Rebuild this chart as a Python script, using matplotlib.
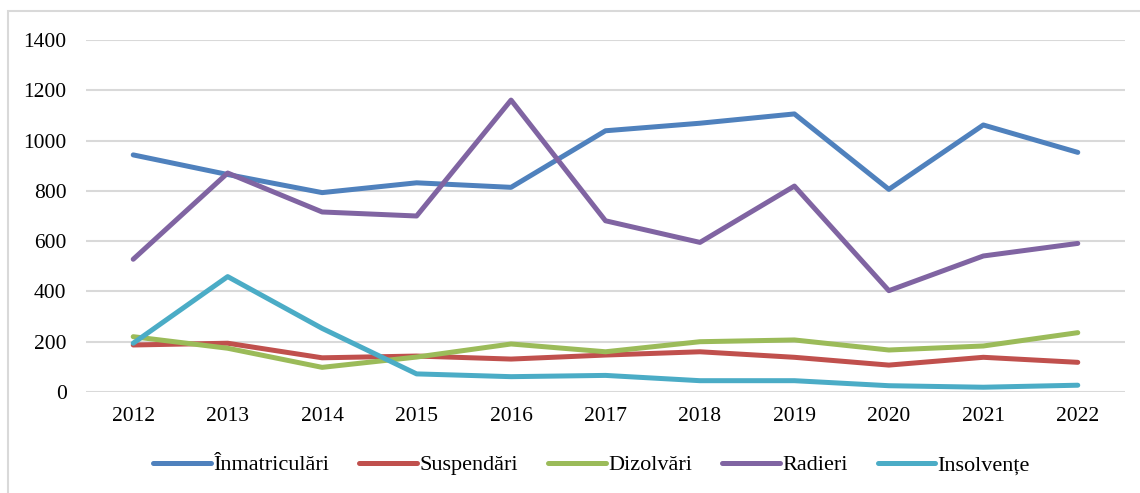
import matplotlib.pyplot as plt
from matplotlib.patches import Rectangle

years = ['2012', '2013', '2014', '2015', '2016', '2017', '2018', '2019', '2020', '2021', '2022']
inmatriculari = [943, 865, 793, 832, 814, 1039, 1069, 1106, 806, 1062, 953]
suspendari = [187, 194, 136, 143, 131, 147, 160, 138, 107, 138, 118]
dizolvari = [220, 174, 98, 139, 191, 160, 200, 207, 167, 183, 236]
radieri = [528, 871, 716, 700, 1161, 681, 595, 819, 403, 541, 591]
insolvente = [194, 459, 253, 72, 61, 66, 45, 45, 25, 19, 27]

names = ['Înmatriculări', 'Suspendări', 'Dizolvări', 'Radieri', 'Insolvențe']
colors = ['#4F81BD', '#C0504D', '#9BBB59', '#8064A2', '#4BACC6']
series = [inmatriculari, suspendari, dizolvari, radieri, insolvente]

plt.rcParams['font.family'] = ['Liberation Serif', 'DejaVu Serif']

fig = plt.figure(figsize=(11.4, 4.93), dpi=100)
ax = fig.add_axes([86 / 1140, 1 - 392 / 493, (1125 - 86) / 1140, (392 - 40) / 493])

x = list(range(len(years)))
for vals, name, c in zip(series, names, colors):
    ax.plot(x, vals, color=c, lw=3.6, label=name, solid_capstyle='round',
            solid_joinstyle='round', zorder=3)

ax.set_xlim(-0.5, len(years) - 0.5)
ax.set_ylim(0, 1400)
ax.set_yticks(range(0, 1401, 200))
ax.set_xticks(x)
ax.set_xticklabels(years)
ax.grid(axis='y', color='#D9D9D9', lw=1.5, zorder=0)
ax.set_axisbelow(True)
for s in ax.spines.values():
    s.set_visible(False)
ax.tick_params(length=0, labelsize=15.5, colors='black')
ax.tick_params(axis='y', pad=14)
ax.tick_params(axis='x', pad=11)

leg = fig.legend(loc='center', bbox_to_anchor=(0.519, 1 - 465 / 493), ncol=5, frameon=False,
                 fontsize=16, handlelength=2.6, handletextpad=0.1, columnspacing=1.35)
for h in leg.get_lines():
    h.set_linewidth(3.6)
    h.set_solid_capstyle('round')

# outer chart border (top and left visible)
fig.patches.append(Rectangle((8 / 1140, -0.1), 1.2, 1 - 11 / 493 + 0.1, transform=fig.transFigure,
                             fill=False, edgecolor='#D9D9D9', lw=1.5))

fig.savefig('out.png', dpi=100)
